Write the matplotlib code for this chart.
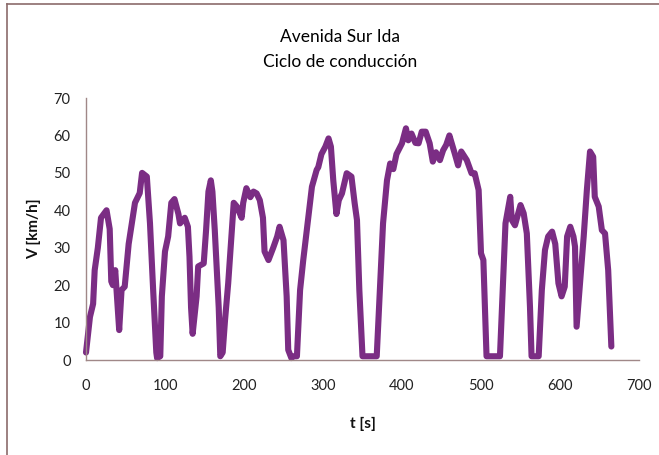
import matplotlib
matplotlib.use('Agg')
import matplotlib.pyplot as plt
from matplotlib.lines import Line2D

# tiempo [s] y velocidad [km/h]
t = [0, 5, 9, 11, 15, 19, 26, 30, 32, 34, 37, 42, 45, 49, 54, 58, 62, 68, 71, 77,
     81, 85, 89, 90, 94, 96, 100, 104, 108, 112, 117, 119, 125, 129, 131, 133, 135,
     140, 142, 149, 152, 155, 158, 160, 163, 168, 170, 173, 176, 180, 184, 187, 191,
     197, 199, 203, 208, 212, 216, 220, 224, 226, 231, 237, 242, 245, 250, 254, 256,
     260, 262, 267, 271, 275, 279, 286, 292, 294, 298, 303, 307, 310, 313, 317, 320,
     324, 330, 336, 340, 343, 346, 350, 368, 372, 376, 381, 385, 389, 393, 400, 405,
     408, 412, 417, 421, 425, 430, 435, 439, 443, 448, 452, 456, 460, 463, 467, 471,
     475, 482, 488, 492, 497, 500, 503, 507, 524, 528, 531, 537, 539, 543, 550, 554,
     558, 562, 564, 573, 577, 581, 585, 590, 594, 598, 602, 606, 609, 613, 617, 619,
     621, 625, 630, 634, 638, 642, 644, 649, 653, 657, 661, 665]
v = [2, 11.5, 15, 24, 30, 38, 40, 35, 21, 20, 24, 8, 18.7, 19.6, 31, 36.5, 42, 44.6, 50, 49,
     36.5, 18.7, 2, 0.5, 1, 17, 29, 33, 42, 43, 39, 36.5, 38, 35.6, 27.6, 14, 7,
     17, 25, 25.8, 34.7, 45, 48, 45, 34.7, 14, 1, 2, 10.7, 20.5, 33, 42, 41,
     38, 42, 45.9, 43.5, 45, 44.5, 42.7, 38, 29, 26.7, 30, 33, 35.6, 32, 17, 2.7,
     0.5, 1, 1, 18.7, 26.7, 33.8, 46.3, 50.8, 51.5, 55, 57, 59.2, 57, 48, 39, 42.7,
     44.5, 49.9, 49, 42, 37.4, 18.7, 1, 1, 18.7, 36.5, 48, 52.5, 51, 55, 57.9, 61.9,
     58.7, 60.5, 58, 57.9, 61, 61, 57.9, 53, 55.5, 53.4, 56, 57.5, 60, 57.9, 55, 52,
     55.7, 53.4, 49.9, 49.9, 45.4, 28.5, 26.7, 1, 1, 21, 36.5, 43.6, 37.4, 36, 41.4, 39.2,
     33.8, 14.2, 1, 1, 18.7, 29.4, 33, 34.3, 31, 20.5, 17, 19.6, 33, 35.6, 33, 30.3,
     8.9, 19.6, 33, 45.4, 55.7, 54.3, 43.6, 41, 34.7, 33.8, 24, 3.6]

xticks = [0, 100, 200, 300, 400, 500, 600, 700]
yticks = [0, 10, 20, 30, 40, 50, 60, 70]

font = ['Lato', 'DejaVu Sans']
axis_color = '#a08888'

fig = plt.figure(figsize=(6.59, 4.55), dpi=100)
ax = fig.add_axes([86 / 659, 95 / 455, (639 - 86) / 659, 262 / 455])

ax.plot(t, v, color='#7b2d84', linewidth=4.4, solid_joinstyle='round',
        solid_capstyle='round', clip_on=False)

ax.set_xlim(0, 700)
ax.set_ylim(0, 70)
ax.set_xticks(xticks)
ax.set_yticks(yticks)
ax.tick_params(length=0, labelsize=10.5, colors='#222222')
ax.tick_params(axis='y', pad=11)
ax.tick_params(axis='x', pad=14)
for lab in ax.get_xticklabels() + ax.get_yticklabels():
    lab.set_family(font)

for s in ['top', 'right']:
    ax.spines[s].set_visible(False)
for s in ['left', 'bottom']:
    ax.spines[s].set_color(axis_color)
    ax.spines[s].set_linewidth(1.0)

ax.set_xlabel('t [s]', fontsize=11, fontweight='bold', family=font, color='#111111', labelpad=17)
ax.set_ylabel('V [km/h]', fontsize=11, fontweight='bold', family=font, color='#111111', labelpad=9)

fig.text(340 / 659, 1 - 37 / 455, 'Avenida Sur Ida', ha='center', va='center',
         fontsize=12.5, family=font, color='#000000')
fig.text(340 / 659, 1 - 62 / 455, 'Ciclo de conducción', ha='center', va='center',
         fontsize=12.5, family=font, color='#000000')

# borde del area del grafico
fig.add_artist(Line2D([7 / 659, 1], [1 - 4 / 455, 1 - 4 / 455], color='#8b6b6b', linewidth=1.2))
fig.add_artist(Line2D([7 / 659, 7 / 659], [0, 1 - 4 / 455], color='#8b6b6b', linewidth=1.2))

fig.savefig('out.png', dpi=100)
